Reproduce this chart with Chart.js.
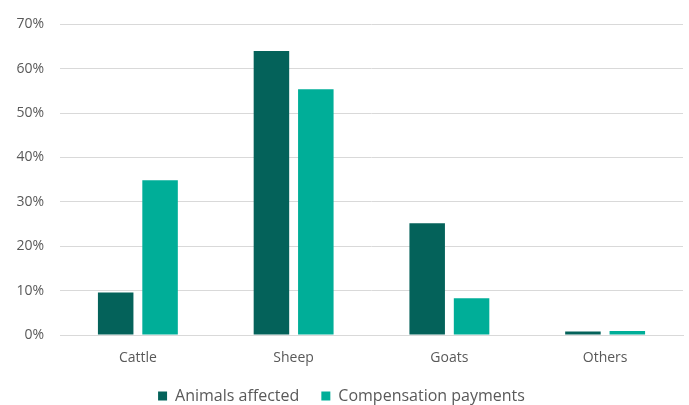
<!DOCTYPE html>
<html>
<head>
<meta charset="utf-8">
<script src="https://cdn.jsdelivr.net/npm/chart.js@4"></script>
<style>
  html, body { margin: 0; padding: 0; background: #fff; }
  #wrap { width: 689px; height: 405px; }
</style>
</head>
<body>
<div id="wrap"><canvas id="chart"></canvas></div>
<script>
// Data
const categories = ['Cattle', 'Sheep', 'Goats', 'Others'];
const animalsAffected = [9.6, 64.0, 25.2, 0.8];
const compensationPayments = [34.9, 55.4, 8.3, 0.9];
const yTicks = [0, 10, 20, 30, 40, 50, 60, 70];

const ctx = document.getElementById('chart').getContext('2d');
const chart = new Chart(ctx, {
    type: 'bar',
    data: {
        labels: categories,
        datasets: [{
            label: 'Animals affected',
            data: animalsAffected,
            backgroundColor: '#04625a',
            categoryPercentage: 0.57,
            barPercentage: 0.8
        }, {
            label: 'Compensation payments',
            data: compensationPayments,
            backgroundColor: '#00ae98',
            categoryPercentage: 0.57,
            barPercentage: 0.8
        }]
    },
    options: {
        responsive: true,
        maintainAspectRatio: false,
        animation: false,
        layout: { padding: { top: 18, right: 6, left: 0, bottom: -9 } },
        plugins: {
            legend: {
                position: 'bottom',
                labels: {
                    boxWidth: 9,
                    boxHeight: 9,
                    padding: 22,
                    color: '#595959',
                    font: { family: 'Open Sans', size: 16 }
                }
            },
            tooltip: { enabled: false }
        },
        scales: {
            x: {
                afterFit: function(scale) { scale.height = 31; },
                grid: { display: false },
                border: { color: '#d9d9d9', width: 1 },
                ticks: {
                    color: '#595959',
                    padding: 7,
                    font: { family: 'Open Sans', size: 14 }
                }
            },
            y: {
                min: 0,
                max: 70,
                afterFit: function(scale) { scale.width = 60; },
                afterBuildTicks: function(scale) {
                    scale.ticks = yTicks.map(v => ({ value: v }));
                },
                grid: { color: '#d9d9d9', drawTicks: false },
                border: { display: false },
                ticks: {
                    color: '#595959',
                    padding: 16,
                    font: { family: 'Open Sans', size: 14 },
                    callback: v => v + '%'
                }
            }
        }
    }
});
</script>
</body>
</html>
